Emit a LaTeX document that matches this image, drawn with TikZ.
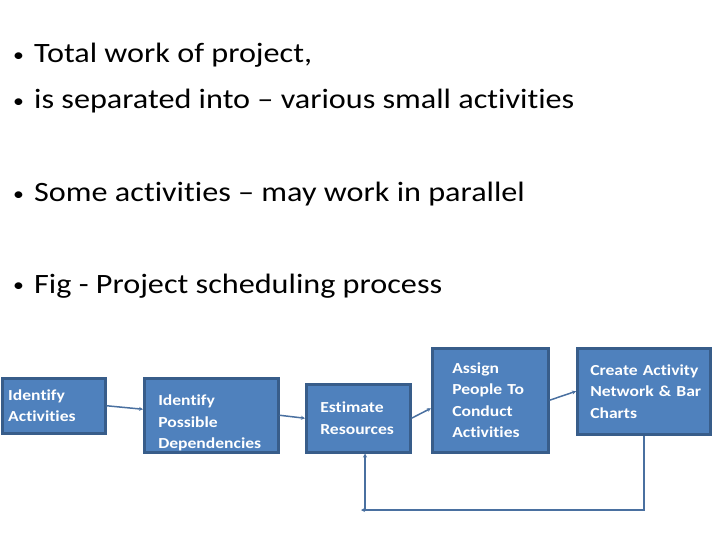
\documentclass[tikz,border=0pt]{standalone}
\usepackage{fontspec}
\setmainfont[FakeStretch=1.15,Ligatures=NoCommon]{Carlito}
\usetikzlibrary{arrows.meta}
\definecolor{boxfill}{RGB}{79,129,189}
\definecolor{boxline}{RGB}{56,93,138}
\definecolor{flowline}{RGB}{74,112,160}
\hyphenpenalty=10000
\tikzset{
  stepbox/.style={draw=boxline,fill=boxfill,line width=2.5pt,text=white,anchor=north west,
    align=left,inner ysep=0pt,font=\bfseries\fontsize{15.3}{21.5}\selectfont},
  flow/.style={draw=flowline,line width=1.5pt,-{Stealth[length=4pt,width=4pt]}},
  point/.style={anchor=base west,inner sep=0pt,font=\fontsize{28}{34}\selectfont}
}
\newcommand\dotmark{\makebox[20pt][l]{\hspace{-1pt}\raisebox{1.5pt}{\fontsize{19}{19}\selectfont\textbullet}}}
\begin{document}
\begin{tikzpicture}[x=1pt,y=-1pt]
\useasboundingbox (0,0) rectangle (720,540);
\foreach \y/\t [count=\i] in {63/{Total work of project,},109/{is separated into -- various small activities},202/{Some activities -- may work in parallel},293/{Fig - Project scheduling process}}
  \node[point] (line\i) at (14,\y) {\dotmark\t};
\node[stepbox,minimum width=102,minimum height=55,text width=91,inner xsep=6] (ident) at (1,377) {Identify\\Activities};
\node[stepbox,minimum width=134,minimum height=74,text width=106,inner xsep=14] (depend) at (143,377) {\rule{0pt}{26pt}Identify\\Possible\\\mbox{Dependencies}};
\node[stepbox,minimum width=104,minimum height=68,text width=76,inner xsep=14] (estim) at (305,383) {Estimate\\\mbox{Resources}};
\node[stepbox,minimum width=116,minimum height=104,text width=76,inner xsep=20] (assign) at (431,347) {Assign\\\mbox{People To}\\Conduct\\\mbox{Activities}};
\node[stepbox,minimum width=133,minimum height=86,text width=107,inner xsep=13] (network) at (576,347) {\mbox{Create Activity}\\\mbox{Network \& Bar}\\Charts};
\draw[flow] (ident.east) -- ([yshift=6pt]depend.west);
\draw[flow] (depend.east) -- (estim.west);
\draw[flow] (estim.east) -- ([yshift=-8pt]assign.west);
\draw[flow] (assign.east) -- (network.west);
\coordinate (loop) at (365,510);
\draw[flow] (network.south) |- ([xshift=-4pt]loop);
\draw[flow] (loop) -- (loop |- estim.south);
\end{tikzpicture}
\end{document}
